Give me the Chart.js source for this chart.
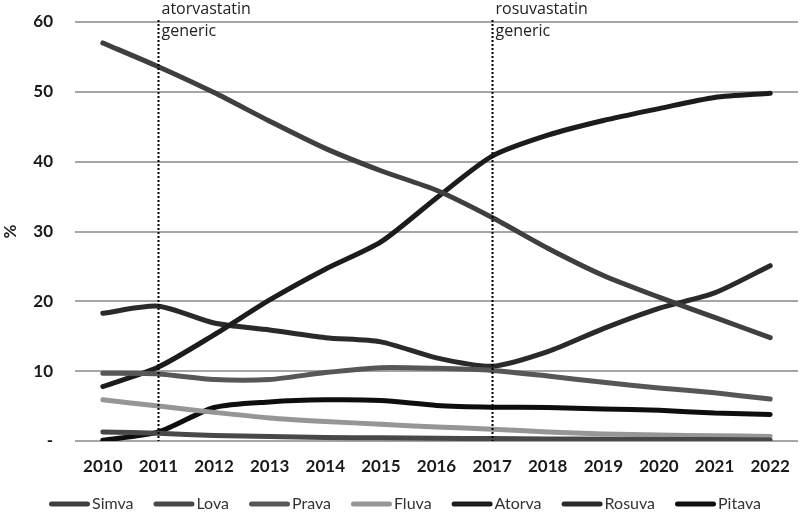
<!DOCTYPE html>
<html><head><meta charset="utf-8">
<script src="https://cdn.jsdelivr.net/npm/chart.js@4.4.1/dist/chart.umd.min.js"></script>
<style>html,body{margin:0;padding:0;background:#fff}#wrap{width:800px;height:515px;position:relative}</style>
</head><body><div id="wrap"><canvas id="c"></canvas></div>
<script>
const years = ['2010','2011','2012','2013','2014','2015','2016','2017','2018','2019','2020','2021','2022'];
const simva  = [57.0, 53.6, 49.9, 45.8, 41.9, 38.7, 35.9, 32.0, 27.6, 23.7, 20.6, 17.7, 14.8];
const lova   = [1.3, 1.1, 0.8, 0.65, 0.5, 0.45, 0.4, 0.35, 0.3, 0.25, 0.2, 0.2, 0.15];
const prava  = [9.7, 9.6, 8.8, 8.8, 9.8, 10.5, 10.4, 10.1, 9.3, 8.4, 7.6, 6.9, 6.0];
const fluva  = [5.9, 5.0, 4.1, 3.3, 2.8, 2.4, 2.0, 1.7, 1.3, 1.0, 0.85, 0.75, 0.65];
const atorva = [7.8, 10.6, 15.2, 20.2, 24.6, 28.5, 34.8, 40.8, 43.8, 45.9, 47.6, 49.2, 49.8];
const rosuva = [18.3, 19.3, 16.9, 15.9, 14.8, 14.2, 11.9, 10.7, 12.8, 16.1, 19.0, 21.2, 25.1];
const pitava = [0.1, 1.3, 4.8, 5.6, 5.9, 5.8, 5.1, 4.85, 4.8, 4.6, 4.4, 4.0, 3.8];
const seriesNames  = ['Simva','Lova','Prava','Fluva','Atorva','Rosuva','Pitava'];
const seriesValues = [simva, lova, prava, fluva, atorva, rosuva, pitava];
const seriesColors = ['#3f3f3f','#484848','#575757','#969696','#1c1c1c','#2a2a2a','#0e0e0e'];
const yTickValues = [0,10,20,30,40,50,60];
const markerYears  = ['2011','2017'];
const markerLabels = [['atorvastatin','generic'],['rosuvastatin','generic']];

const markerPlugin = {
  id: 'markers',
  afterDatasetsDraw(chart) {
    const ctx = chart.ctx, x = chart.scales.x, ca = chart.chartArea;
    ctx.save();
    markerYears.forEach((yr, i) => {
      const px = Math.round(x.getPixelForValue(years.indexOf(yr))) + 0.5;
      ctx.strokeStyle = '#000';
      ctx.lineWidth = 2;
      ctx.setLineDash([2, 2]);
      ctx.beginPath();
      ctx.moveTo(px, 20);
      ctx.lineTo(px, ca.bottom);
      ctx.stroke();
      ctx.setLineDash([]);
      ctx.fillStyle = '#222';
      ctx.font = '16px "Open Sans", sans-serif';
      ctx.textBaseline = 'middle';
      ctx.textAlign = 'left';
      markerLabels[i].forEach((t, j) => ctx.fillText(t, px + 3, 9 + j * 22));
    });
    ctx.restore();
  }
};

const legendPlugin = {
  id: 'customLegend',
  afterDraw(chart) {
    const ctx = chart.ctx;
    ctx.save();
    ctx.font = '16px Lato, sans-serif';
    ctx.textBaseline = 'middle';
    ctx.textAlign = 'left';
    const lineLen = 41, gapIn = 2, gapOut = 20, y = 504;
    const dss = chart.data.datasets;
    let total = 0;
    dss.forEach((ds, i) => { total += lineLen + gapIn + ctx.measureText(ds.label).width + (i < dss.length - 1 ? gapOut : 0); });
    let x = 405 - total / 2;
    dss.forEach(ds => {
      ctx.strokeStyle = ds.borderColor;
      ctx.lineWidth = 5;
      ctx.lineCap = 'round';
      ctx.beginPath();
      ctx.moveTo(x + 2.5, y);
      ctx.lineTo(x + lineLen - 2.5, y);
      ctx.stroke();
      x += lineLen + gapIn;
      ctx.fillStyle = '#333';
      ctx.fillText(ds.label, x, y);
      x += ctx.measureText(ds.label).width + gapOut;
    });
    ctx.restore();
  }
};

new Chart(document.getElementById('c'), {
  type: 'line',
  data: {
    labels: years,
    datasets: seriesNames.map((n, i) => ({
      label: n,
      data: seriesValues[i],
      borderColor: seriesColors[i],
      backgroundColor: seriesColors[i],
      borderWidth: 5,
      pointRadius: 0,
      tension: 0.25,
      borderCapStyle: 'round',
      borderJoinStyle: 'round',
      fill: false
    }))
  },
  options: {
    responsive: true,
    maintainAspectRatio: false,
    animation: false,
    layout: { padding: { top: 22, right: 2, bottom: 34, left: 0 } },
    plugins: { legend: { display: false }, tooltip: { enabled: false } },
    scales: {
      x: {
        offset: true,
        grid: { display: false },
        border: { display: false },
        ticks: { color: '#1a1a1a', font: { family: 'Lato, sans-serif', size: 17, weight: 'bold' }, padding: 7, maxRotation: 0 },
        afterFit(s) { s.height = 40; s.paddingLeft = 0; s.paddingRight = 0; }
      },
      y: {
        min: 0, max: 60,
        afterBuildTicks(s) { s.ticks = yTickValues.map(v => ({ value: v })); },
        grid: { color: '#a6a6a6', lineWidth: 2, drawTicks: false },
        border: { display: false },
        ticks: {
          color: '#1a1a1a',
          font: { family: 'Lato, sans-serif', size: 17, weight: 'bold' },
          padding: 22,
          callback: v => v === 0 ? '-' : String(v)
        },
        title: { display: true, text: '%', color: '#1a1a1a', font: { family: 'Lato, sans-serif', size: 17, weight: 'bold' }, padding: 0 },
        afterFit(s) { s.width = 75; s.paddingTop = 0; s.paddingBottom = 0; }
      }
    }
  },
  plugins: [markerPlugin, legendPlugin]
});
</script></body></html>
